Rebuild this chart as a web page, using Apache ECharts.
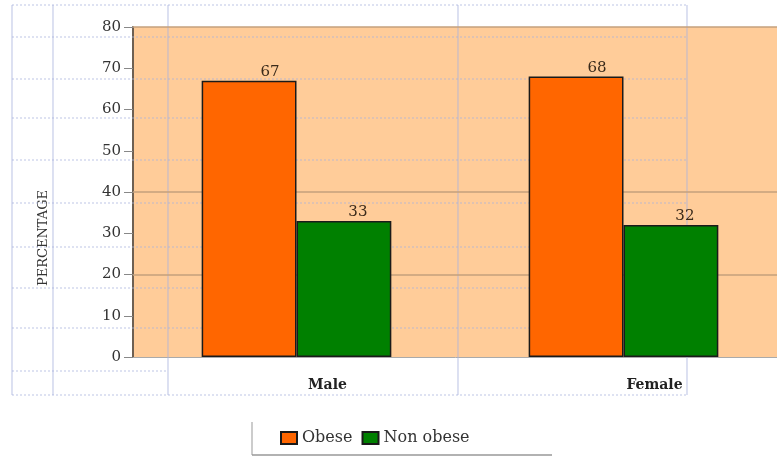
<!DOCTYPE html>
<html>
<head>
<meta charset="utf-8">
<script src="https://cdn.jsdelivr.net/npm/echarts@6/dist/echarts.min.js"></script>
<style>html,body{margin:0;padding:0;background:#fff;}#chart{width:777px;height:458px;}</style>
</head>
<body>
<div id="chart"></div>
<script>
var categories = ['Male', 'Female'];
var obese = [67, 68];
var nonObese = [33, 32];
var yTicks = { min: 0, max: 80, interval: 10 };
var strongGridValues = [20, 40, 80];

var serif = "'DejaVu Serif', 'Liberation Serif', serif";
var chart = echarts.init(document.getElementById('chart'));

// decorative table overlay lines (from the scanned page)
var overlay = [];
var hY = [5, 37, 79, 118, 160, 203, 247, 288, 328, 395];
hY.forEach(function (y) {
  overlay.push({ type: 'line', z: 1, silent: true,
    shape: { x1: 12, y1: y, x2: 687, y2: y },
    style: { stroke: '#a9b3dd', lineWidth: 1, lineDash: [2, 2], opacity: 0.75 } });
});
overlay.push({ type: 'line', z: 1, silent: true,
  shape: { x1: 12, y1: 371, x2: 168, y2: 371 },
  style: { stroke: '#a9b3dd', lineWidth: 1, lineDash: [2, 2], opacity: 0.75 } });
[12, 53, 168, 458, 687].forEach(function (x) {
  overlay.push({ type: 'line', z: 1, silent: true,
    shape: { x1: x, y1: 5, x2: x, y2: 395 },
    style: { stroke: '#a9b3dd', lineWidth: 1, opacity: 0.8 } });
});
// legend frame (left and bottom edges)
overlay.push({ type: 'line', z: 1, silent: true,
  shape: { x1: 252, y1: 422, x2: 252, y2: 455 },
  style: { stroke: '#999', lineWidth: 1 } });
overlay.push({ type: 'line', z: 1, silent: true,
  shape: { x1: 252, y1: 455, x2: 552, y2: 455 },
  style: { stroke: '#999', lineWidth: 1.5 } });

var option = {
  backgroundColor: '#ffffff',
  animation: false,
  graphic: overlay,
  legend: {
    left: 275, top: 425,
    itemWidth: 16, itemHeight: 12, itemGap: 9,
    icon: 'rect',
    textStyle: { fontFamily: serif, fontSize: 16, color: '#333' },
    data: ['Obese', 'Non obese']
  },
  grid: {
    left: 133, width: 654, top: 27, bottom: 101,
    outerBoundsMode: 'none',
    containLabel: false,
    show: true, backgroundColor: '#FFCC99', borderWidth: 0
  },
  xAxis: {
    type: 'category',
    data: categories,
    axisLine: { lineStyle: { color: '#aaaaaa', width: 1 } },
    axisTick: { show: false },
    axisLabel: {
      fontFamily: serif, fontSize: 14, fontWeight: 'bold', color: '#222',
      margin: 21, padding: [0, 0, 0, 62]
    }
  },
  yAxis: {
    type: 'value',
    min: yTicks.min, max: yTicks.max, interval: yTicks.interval,
    name: 'PERCENTAGE',
    nameLocation: 'middle',
    nameRotate: 90,
    nameGap: 83,
    nameTextStyle: { fontFamily: serif, fontSize: 13, color: '#333', padding: [0, 92, 0, 0] },
    axisLine: { show: true, lineStyle: { color: '#6e6052', width: 2 } },
    axisTick: { show: true, length: 9, lineStyle: { color: '#888' } },
    axisLabel: { fontFamily: serif, fontSize: 15, color: '#333', margin: 12 },
    splitLine: { show: false }
  },
  series: [
    {
      name: 'Obese',
      type: 'bar',
      data: obese,
      barGap: '0%',
      barCategoryGap: '42%',
      itemStyle: { color: '#FF6600', borderColor: '#1a1a1a', borderWidth: 1.5 },
      label: { show: true, position: 'top', distance: 1, offset: [21, 0],
        fontFamily: serif, fontSize: 15, color: '#3a2a1a' },
      markLine: {
        silent: true, symbol: 'none', z: 1,
        label: { show: false },
        lineStyle: { color: '#c4a07c', type: 'solid', width: 1.5 },
        data: strongGridValues.map(function (v) { return { yAxis: v }; })
      }
    },
    {
      name: 'Non obese',
      type: 'bar',
      data: nonObese,
      itemStyle: { color: '#008000', borderColor: '#1a1a1a', borderWidth: 1.5 },
      label: { show: true, position: 'top', distance: 1, offset: [14, 0],
        fontFamily: serif, fontSize: 15, color: '#3a2a1a' }
    }
  ]
};
chart.setOption(option);
</script>
</body>
</html>
